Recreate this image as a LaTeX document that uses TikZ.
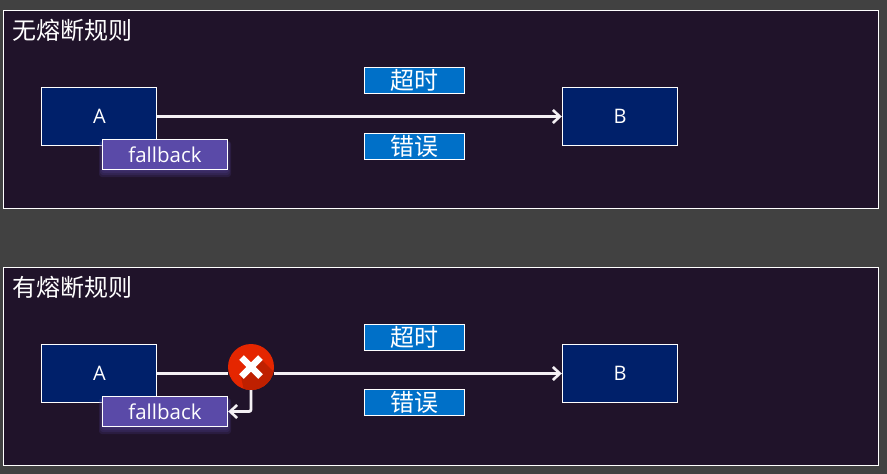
\documentclass[tikz,border=0pt]{standalone}
\usepackage{fontspec}
\setmainfont{Open Sans}
\newfontfamily\cjk{Noto Sans CJK SC}
\usetikzlibrary{arrows.meta,positioning}
\definecolor{pagebg}{HTML}{414141}
\definecolor{panelbg}{HTML}{20132A}
\definecolor{boxnavy}{HTML}{00206A}
\definecolor{boxpurple}{HTML}{5A4AA8}
\definecolor{boxblue}{HTML}{0070C8}
\definecolor{crossred}{HTML}{E52600}
\definecolor{crossdark}{HTML}{BF2000}
\definecolor{linewhite}{HTML}{F4F0F4}
\tikzset{
  panel/.style={draw=white,line width=0.9pt,fill=panelbg,minimum width=875.5,minimum height=198,inner sep=0,anchor=north west},
  title/.style={text=white,inner sep=0,anchor=west,font=\cjk\fontsize{24}{24}\selectfont},
  svc/.style={draw=white,line width=0.9pt,fill=boxnavy,text=white,minimum width=115.5,minimum height=57.5,inner sep=0,font=\fontsize{20}{20}\selectfont},
  fb/.style={draw=white,line width=0.9pt,fill=boxpurple,text=white,minimum width=125.5,minimum height=30,inner sep=0,font=\fontsize{20.5}{21}\selectfont},
  tag/.style={draw=white,line width=0.9pt,fill=boxblue,text=white,minimum width=100,minimum height=26,inner sep=0,font=\cjk\fontsize{24}{24}\selectfont},
  link/.style={draw=linewhite,line width=2.8pt},
  tip/.style={-{Straight Barb[length=7pt,width=13pt,line width=2.6pt]}},
  glow/.style={fill=boxpurple,opacity=0.18,rounded corners=3pt},
}
\begin{document}
\begin{tikzpicture}[x=1pt,y=-1pt]
\useasboundingbox (0,0) rectangle (887,474);
\fill[pagebg] (0,0) rectangle (887,474);
% upper panel
\node[panel] (p1) at (2.5,10) {};
\node[title] (t1) at (12,30) {无熔断规则};
\node[svc] (a1) at (99,116.5) {\raisebox{-1pt}{\hspace{1pt}A}};
\node[svc] (b1) at (620,116.5) {\raisebox{-1pt}{B}};
\draw[link,tip] (a1.east) -- (b1.west);
\foreach \g in {0,1,2,3}{\fill[glow] (102-\g,141) rectangle (228+\g,171+2*\g);}
\node[fb] (f1) at (165,154.5) {fallback};
\node[tag] (u1) at (414.5,80.5) {超时};
\node[tag] (e1) at (414.5,146.5) {错误};
% lower panel
\node[panel] (p2) at (2.5,267) {};
\node[title] (t2) at (12,287) {有熔断规则};
\node[svc] (a2) at (99,373.5) {\raisebox{-1pt}{\hspace{1pt}A}};
\node[svc] (b2) at (620,373.5) {\raisebox{-1pt}{B}};
\foreach \g in {0,1,2,3}{\fill[glow] (102-\g,398) rectangle (228+\g,428+2*\g);}
\node[fb] (f2) at (165,411.5) {fallback};
\node[circle,fill=crossred,minimum size=46,inner sep=0] (x) at (251,367) {};
\draw[link] (a2.east) -- (x.west |- a2.east);
\draw[link,tip] (x.east |- a2.east) -- (b2.west);
\draw[link,tip,rounded corners=2pt] (x.south) |- (f2.east);
\begin{scope}
  \clip (x) circle (23);
  \fill[crossdark] (259,357) -- (280,378) -- (275,395) -- (245,395) -- (241,377) -- cycle;
\end{scope}
\draw[white,line width=6.5pt] (241.5,357.5) -- (260.5,376.5) (260.5,357.5) -- (241.5,376.5);
\node[tag] (u2) at (414.5,337.5) {超时};
\node[tag] (e2) at (414.5,402.5) {错误};
\end{tikzpicture}
\end{document}
